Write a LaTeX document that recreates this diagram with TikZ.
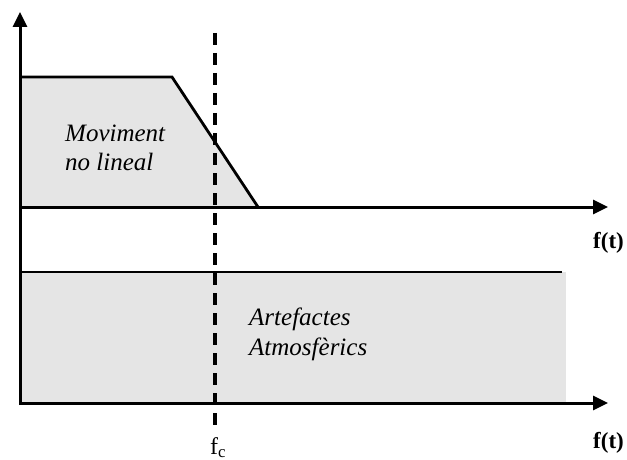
\documentclass[tikz,border=0pt]{standalone}
\usepackage{fontspec}
\setmainfont{Liberation Serif}
\usetikzlibrary{arrows.meta}
\begin{document}
\begin{tikzpicture}[x=1pt,y=-1pt,
  axis/.style={line width=3pt,-{Triangle[length=15pt,width=14pt]}},
  edge/.style={line width=2.8pt},
  band/.style={fill=black!10},
  cutoff/.style={line width=4.5pt,dash pattern=on 12pt off 8pt},
  zone/.style={font=\itshape\fontsize{25}{28}\selectfont,anchor=base west,inner sep=0pt},
  axlabel/.style={font=\bfseries\fontsize{23}{26}\selectfont,anchor=base west,inner sep=0pt}]
  \useasboundingbox (0,0) rectangle (627,460);
  % key points
  \coordinate (o) at (20,405);
  \coordinate (ytop) at (20,12);
  \coordinate (b1) at (20,207);
  \coordinate (b1end) at (608,207);
  \coordinate (b2) at (20,403);
  \coordinate (b2end) at (608,403);
  \coordinate (p1) at (20,77);
  \coordinate (p2) at (172,77);
  \coordinate (p3) at (258,207);
  \coordinate (r1) at (20,272);
  \coordinate (r2) at (562,272);
  \coordinate (dtop) at (215,33);
  \coordinate (dbot) at (215,425);
  % shaded regions
  \fill[band] (p1) -- (p2) -- (p3) -- (b1) -- cycle;
  \fill[band] (r1) rectangle (566,403);
  % outlines
  \draw[edge] (p1) -- (p2) -- (p3);
  \draw[edge] (r1) -- (r2);
  % axes
  \draw[axis] (o) -- (ytop);
  \draw[axis] (b1) -- (b1end);
  \draw[axis] (b2) -- (b2end);
  % cut-off frequency
  \draw[cutoff] (dtop) -- (dbot);
  % labels
  \node[zone] (mov1) at (65,142) {Moviment};
  \node[zone] (mov2) at (65,170) {no lineal};
  \node[zone] (art1) at (249,325) {Artefactes};
  \node[zone] (art2) at (249,355) {Atmosfèrics};
  \node[axlabel] (f1) at (593,248) {f(t)};
  \node[axlabel] (f2) at (593,448) {f(t)};
  \node[font=\fontsize{24}{26}\selectfont,anchor=base west,inner sep=0pt] (fc) at (210,454) {f\textsubscript{c}};
\end{tikzpicture}
\end{document}
